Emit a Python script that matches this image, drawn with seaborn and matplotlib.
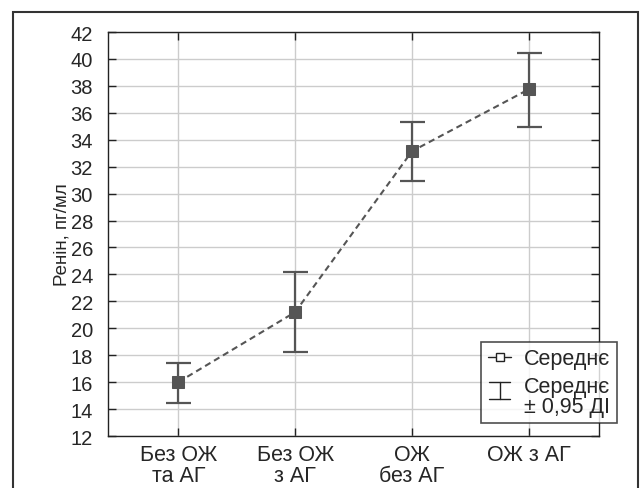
import numpy as np
import matplotlib
matplotlib.use("Agg")
import matplotlib.pyplot as plt
import seaborn as sns
import pandas as pd
from matplotlib.lines import Line2D
from matplotlib.patches import Rectangle
from matplotlib.legend_handler import HandlerBase

categories = ["Без ОЖ\nта АГ", "Без ОЖ\nз АГ", "ОЖ\nбез АГ", "ОЖ з АГ"]
means = [16.0, 21.2, 33.15, 37.75]
ci_low = [14.45, 18.25, 30.9, 34.95]
ci_high = [17.45, 24.2, 35.3, 40.45]
y_ticks = list(range(12, 43, 2))

sns.set_theme(style="white")
plt.rcParams['font.family'] = ['Liberation Sans', 'DejaVu Sans']

fig = plt.figure(figsize=(6.4, 4.89), dpi=100)
ax = fig.add_axes([0.169, 0.1063, 0.767, 0.8262])

df = pd.DataFrame({"pos": np.arange(len(categories)), "mean": means})
col = "#555555"
sns.lineplot(data=df, x="pos", y="mean", ax=ax, color=col, linestyle=(0, (3, 2)),
             linewidth=1.5, marker="s", markersize=9, markeredgecolor=col,
             markerfacecolor=col, zorder=3)
ax.errorbar(df["pos"], df["mean"],
            yerr=[np.array(means) - np.array(ci_low), np.array(ci_high) - np.array(means)],
            fmt="none", ecolor=col, elinewidth=1.6, capsize=9, capthick=1.6, zorder=2)

ax.set_xlim(-0.6, 3.6)
ax.set_ylim(12, 42)
ax.set_yticks(y_ticks)
ax.set_xticks(np.arange(len(categories)))
ax.set_xticklabels(categories, fontsize=15.5, linespacing=1.0)
ax.tick_params(axis="y", labelsize=14.5, pad=11)
ax.tick_params(axis="x", pad=6)
ax.set_xlabel("")
ax.set_ylabel("Ренін, пг/мл", fontsize=13.5)
ax.yaxis.set_label_coords(-0.077, 0.5)
ax.grid(True, color="#cccccc", linewidth=1.0)
ax.set_axisbelow(True)
for s in ax.spines.values():
    s.set_color("#222222")
    s.set_linewidth(1.0)
ax.tick_params(direction="in", length=6, width=1, color="#222222",
               top=True, right=True, bottom=True, left=True)


class IBarHandler(HandlerBase):
    def create_artists(self, legend, orig_handle, xdescent, ydescent, width,
                       height, fontsize, trans):
        cx = width / 2 - xdescent
        y0 = -ydescent + height * 0.35
        y1 = -ydescent + height * 1.45
        hw = width * 0.45
        kw = dict(color="#222222", linewidth=1.0, transform=trans)
        return [Line2D([cx, cx], [y0, y1], **kw),
                Line2D([cx - hw, cx + hw], [y0, y0], **kw),
                Line2D([cx - hw, cx + hw], [y1, y1], **kw)]


class IBar:
    pass


h1 = Line2D([], [], color="#222222", linewidth=1, marker="s", markersize=6,
            markerfacecolor="white", markeredgecolor="#222222")
h2 = IBar()
leg = fig.legend([h1, h2], ["Середнє", "Середнє\n± 0,95 ДІ"],
                 handler_map={IBar: IBarHandler()},
                 loc="upper left", bbox_to_anchor=(0.752, 0.299),
                 fontsize=15.5, frameon=True, fancybox=False, handlelength=1.1,
                 handletextpad=0.6, borderpad=0.3, labelspacing=0.3,
                 borderaxespad=0)
leg.get_frame().set_edgecolor("#222222")
leg.get_frame().set_linewidth(1.2)
for t in leg.get_texts():
    t.set_linespacing(0.95)

fig.patches.append(Rectangle((13 / 640, -0.1), (638 - 13) / 640, 1 - 13 / 489 + 0.1,
                             transform=fig.transFigure, fill=False,
                             edgecolor="#333333", linewidth=1.5))

fig.savefig("out.png", dpi=100)
